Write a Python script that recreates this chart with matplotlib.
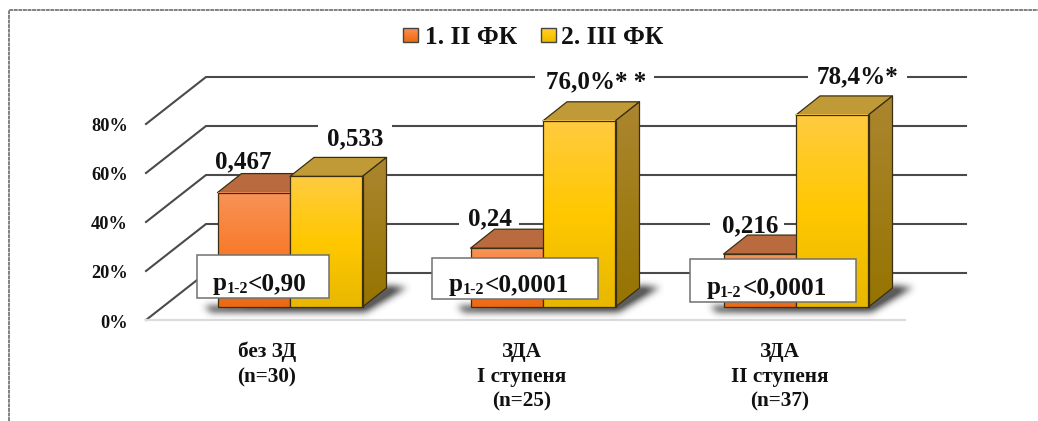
import numpy as np
import matplotlib
matplotlib.use("Agg")
import matplotlib.pyplot as plt
from matplotlib.colors import LinearSegmentedColormap
from matplotlib.patches import Polygon, Rectangle
from matplotlib.path import Path
from matplotlib.transforms import Affine2D

plt.rcParams["font.family"] = ["Liberation Serif", "DejaVu Serif"]
plt.rcParams["font.weight"] = "bold"

# Data
categories = ["без ЗД\n(n=30)", "ЗДА\nI ступеня\n(n=25)", "ЗДА\nII ступеня\n(n=37)"]
series_names = ["1. II ФК", "2. III ФК"]
fc2_values = [46.7, 24.0, 21.6]
fc3_values = [53.3, 76.0, 78.4]
fc2_labels = ["0,467", "0,24", "0,216"]
fc3_labels = ["0,533", "76,0%* *", "78,4%*"]
p_labels = ["<0,90", "<0,0001", "<0,0001"]
ticks = [0, 20, 40, 60, 80]

W, H = 1038, 421
GROUP_STEP = 253.0
PCT = 2.45  # pixels per percent

fig = plt.figure(figsize=(W / 100, H / 100), dpi=100)
ax = fig.add_axes([0, 0, 1, 1])
ax.set_xlim(-290 / GROUP_STEP, (W - 290) / GROUP_STEP)
ax.set_ylim((307 - H) / PCT, 307 / PCT)
ax.set_autoscale_on(False)
ax.axis("off")

# pixel coordinates for the text and boxes, origin top left
px = Affine2D().scale(1, -1).translate(0, H)

bar_w = 72.5 / GROUP_STEP
depth_x = 24 / GROUP_STEP
depth_y = 19 / PCT
wall_dx = 60 / GROUP_STEP
wall_dy = 47 / PCT
front_off = -13 / PCT
left = (146 - 290) / GROUP_STEP
right = (966 - 290) / GROUP_STEP
floor_right = (905 - 290) / GROUP_STEP

orange_cm = LinearSegmentedColormap.from_list("o", ["#F79358", "#F97C2C", "#EA6A14"])
yellow_cm = LinearSegmentedColormap.from_list("y", ["#FFCB40", "#FFC800", "#E8B800"])
side_cm = LinearSegmentedColormap.from_list("s", ["#AC8630", "#967400"])
grad = np.linspace(0, 1, 128).reshape(-1, 1)

# dashed outer frame
ax.plot([9, 9, W], [H, 10, 10], transform=px, color="#808080", lw=1.4,
        ls=(0, (2, 0.35)), zorder=1)

# walls and grid
for t in ticks:
    y = t + front_off
    line_x = [left, left + wall_dx, right]
    line_y = [y, y + wall_dy, y + wall_dy]
    ax.plot(line_x, line_y, color="#4a4a4a", lw=1.5, zorder=2, solid_joinstyle="miter")
ax.plot([left, floor_right], [front_off, front_off], color="#dcdcdc", lw=1.6, zorder=2)


def blur(img, size=21):
    kernel = np.exp(-np.linspace(-2, 2, size) ** 2)
    kernel /= kernel.sum()
    img = np.apply_along_axis(lambda r: np.convolve(r, kernel, mode="same"), 0, img)
    return np.apply_along_axis(lambda r: np.convolve(r, kernel, mode="same"), 1, img)


def draw_shadow(i):
    # soft ground shadow, built on a small pixel grid around the group
    cx = i * GROUP_STEP + 290
    x0, x1 = int(cx - 125), int(cx + 150)
    y0, y1 = 260, 335
    gx, gy = np.meshgrid(np.arange(x0, x1), np.arange(y0, y1))
    verts = [(cx - 86, 306), (cx - 80, 311), (cx + 76, 311), (cx + 116, 287),
             (cx + 96, 285), (cx + 72, 298)]
    mask = Path(verts).contains_points(np.c_[gx.ravel(), gy.ravel()]).reshape(gx.shape)
    alpha = np.clip(blur(mask.astype(float)) * 1.05, 0, 0.85)
    rgba = np.zeros(alpha.shape + (4,))
    rgba[..., :3] = 0.25
    rgba[..., 3] = alpha
    extent = [(x0 - 290) / GROUP_STEP, (x1 - 290) / GROUP_STEP,
              (307 - y1) / PCT, (307 - y0) / PCT]
    ax.imshow(rgba, extent=extent, aspect="auto", zorder=3, interpolation="bilinear")


def draw_bar(x0, value, cmap, top_color, zorder, side=True):
    edge = "#3a2f12"
    top = Polygon([(x0, value), (x0 + bar_w, value),
                   (x0 + bar_w + depth_x, value + depth_y), (x0 + depth_x, value + depth_y)],
                  facecolor=top_color, edgecolor=edge, lw=0.9, zorder=zorder, joinstyle="round")
    ax.add_patch(top)
    if side:
        sp = Polygon([(x0 + bar_w, 0), (x0 + bar_w + depth_x, depth_y),
                      (x0 + bar_w + depth_x, value + depth_y), (x0 + bar_w, value)],
                     transform=ax.transData, facecolor="none", edgecolor=edge, lw=0.9,
                     zorder=zorder + 0.2)
        ax.add_patch(sp)
        im = ax.imshow(grad, cmap=side_cm, aspect="auto", zorder=zorder + 0.1,
                       extent=[x0 + bar_w, x0 + bar_w + depth_x, 0, value + depth_y])
        im.set_clip_path(Polygon(sp.get_xy(), transform=ax.transData))
    im = ax.imshow(grad, cmap=cmap, aspect="auto", zorder=zorder + 0.1,
                   extent=[x0, x0 + bar_w, 0, value])
    ax.bar(x0, value, bar_w, align="edge", facecolor="none", edgecolor=edge, lw=0.9,
           zorder=zorder + 0.2)


for i in range(3):
    draw_shadow(i)
    draw_bar(i - bar_w, fc2_values[i], orange_cm, "#B96B3F", 4, side=False)
    draw_bar(i, fc3_values[i], yellow_cm, "#BF9A36", 5)

# tick labels on the front edge
for t in ticks:
    ax.text(128 / GROUP_STEP - 290 / GROUP_STEP, t + front_off - 3 / PCT, f"{t}%", ha="right",
            va="center", fontsize=13.2, color="#111111", zorder=8)

# category labels
cat_x = [267, 522, 780]
for name, x in zip(categories, cat_x):
    ax.text(x, 342, name, transform=px, ha="center", va="top", fontsize=15.3,
            color="#111111", linespacing=1.32, zorder=8)

# value labels, white backing breaks the grid lines
VAL_FS = 18
label_pos = [(243, 168, fc2_labels[0], None), (355, 145, fc3_labels[0], (318, 122, 392, 150)),
             (490, 225, fc2_labels[1], (459, 210, 519, 232)), (596, 88, fc3_labels[1], (535, 70, 654, 92)),
             (750, 232, fc2_labels[2], (710, 216, 784, 238)), (857, 83, fc3_labels[2], (808, 64, 907, 90))]
for x, y, s, gap in label_pos:
    if gap:
        bx0, by0, bx1, by1 = gap
        ax.add_patch(Rectangle((bx0, by0), bx1 - bx0, by1 - by0, transform=px,
                               facecolor="white", edgecolor="none", zorder=3.5))
    ax.text(x, y, s, transform=px, ha="center", va="baseline", fontsize=VAL_FS,
            color="#111111", zorder=9)

# p-value boxes
boxes = [(197, 255, 329, 298), (432, 258, 598, 299), (690, 259, 856, 302)]
p_pos = [(213, 227, 248, 290), (449, 463, 485, 291), (707, 720, 743, 294)]
for (x0, y0, x1, y1), (xp, xs, xt, base), txt in zip(boxes, p_pos, p_labels):
    ax.add_patch(Rectangle((x0, y0), x1 - x0, y1 - y0, transform=px, facecolor="white",
                           edgecolor="#707070", lw=1.1, zorder=10))
    ax.text(xp, base, "p", transform=px, fontsize=18, va="baseline", color="#111111", zorder=11)
    ax.text(xs, base + 3, "1-2", transform=px, fontsize=11.5, va="baseline", color="#111111", zorder=11)
    ax.text(xt, base, txt, transform=px, fontsize=18.2, va="baseline", color="#111111", zorder=11)

# legend
for x, name, cmap, tx in [(403, series_names[0], orange_cm, 425), (541, series_names[1], yellow_cm, 561)]:
    im = ax.imshow(grad, cmap=cmap, aspect="auto", zorder=8, transform=px,
                   extent=[x, x + 14.5, 42, 28])
    ax.add_patch(Rectangle((x, 28), 14.5, 14, transform=px, facecolor="none",
                           edgecolor="#444444", lw=1, zorder=8.1))
    ax.text(tx, 44, name, transform=px, fontsize=18.4, va="baseline", color="#111111", zorder=9)

fig.savefig("out.png", dpi=100)
